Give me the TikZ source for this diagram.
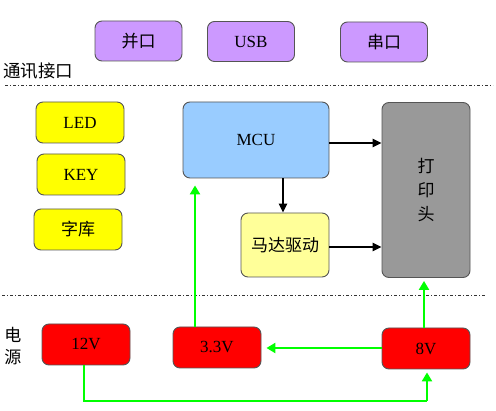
\documentclass[tikz,border=0pt]{standalone}
\usepackage{fontspec}
\setmainfont{Liberation Serif}
\newfontfamily\cjk{Noto Sans CJK SC}
\usetikzlibrary{arrows.meta,calc}
\definecolor{cpurple}{HTML}{CC99FF}
\definecolor{cyellow}{HTML}{FFFF00}
\definecolor{cblue}{HTML}{99CCFF}
\definecolor{clyellow}{HTML}{FFFF99}
\definecolor{cgray}{HTML}{999999}
\definecolor{cred}{HTML}{FF0000}
\definecolor{cgreen}{HTML}{00FF00}
\definecolor{cedge}{HTML}{555555}
\tikzset{
  blk/.style={draw=cedge, line width=0.9pt, rounded corners=7pt, inner sep=0pt, font=\fontsize{17}{20}\selectfont},
  purplebox/.style={blk, fill=cpurple, minimum width=87pt, minimum height=40pt},
  yellowbox/.style={blk, fill=cyellow, minimum width=88pt, minimum height=41pt},
  redbox/.style={blk, fill=cred, minimum width=88pt, minimum height=41pt},
  sep/.style={line width=0.8pt, color=black!80, dash pattern=on 3pt off 2pt on 1pt off 2pt},
  blackarrow/.style={line width=2.6pt, -{Triangle[length=9pt,width=8pt]}},
  greenarrow/.style={line width=2.6pt, cgreen, -{Triangle[length=9pt,width=10pt]}},
  greenline/.style={line width=2.6pt, cgreen},
  lbl/.style={font=\cjk\fontsize{17}{20}\selectfont, inner sep=0pt},
}
\begin{document}
\begin{tikzpicture}[x=1pt,y=-1pt]
\useasboundingbox (0,0) rectangle (496,411);
% interface row
\node[purplebox] (par) at (138.5,41) {\cjk 并口};
\node[purplebox] (usb) at (251,41.5) {USB};
\node[purplebox] (ser) at (384,42) {\cjk 串口};
\node[lbl, anchor=west, font=\cjk\fontsize{17.5}{20}\selectfont] (commlbl) at (3,71) {通讯接口};
\coordinate (s1a) at (5,85);
\coordinate (s1b) at (493,85);
\draw[sep] (s1a) -- (s1b);
% middle
\node[yellowbox] (led) at (80,122.5) {LED};
\node[yellowbox] (key) at (81,174.5) {KEY};
\node[yellowbox] (font) at (78,229.5) {\cjk 字库};
\node[blk, fill=cblue, minimum width=146pt, minimum height=76pt] (mcu) at (256,140) {MCU};
\node[blk, fill=clyellow, minimum width=88pt, minimum height=64pt] (motor) at (285,245) {\cjk 马达驱动};
\node[blk, fill=cgray, minimum width=88pt, minimum height=175pt, align=center, font=\cjk\fontsize{17}{24}\selectfont] (head) at (426,190) {打\\印\\头};
\coordinate (s2a) at (2,295);
\coordinate (s2b) at (485,295);
\draw[sep] (s2a) -- (s2b);
% power
\node[lbl, align=center, font=\cjk\fontsize{17}{22}\selectfont] (powlbl) at (13,346) {电\\源};
\node[redbox] (v12) at (86,344.5) {12V};
\node[redbox] (v33) at (217,347.5) {3.3V};
\node[redbox] (v8) at (426,348.5) {8V};
% black arrows
\draw[blackarrow] (mcu.east |- 0,143) -- (head.west |- 0,143);
\draw[blackarrow] (motor.east |- 0,247) -- (head.west |- 0,247);
\draw[blackarrow] (mcu.south -| 283,0) -- (motor.north -| 283,0);
% green arrows
\draw[greenarrow, shorten >=7pt] (v33.north -| 195,0) -- (mcu.south -| 195,0);
\draw[greenarrow, shorten >=3pt] (v8.north -| 424,0) -- (head.south -| 424,0);
\draw[greenarrow, shorten >=5pt] (v8.west |- 0,348) -- (v33.east |- 0,348);
\coordinate (c1) at (84,401);
\coordinate (c2) at (427,401);
\draw[greenline] (v12.south -| 84,0) -- (c1) -- (c2);
\draw[greenarrow, shorten >=3pt] (c2) -- (v8.south -| 427,0);
\end{tikzpicture}
\end{document}
